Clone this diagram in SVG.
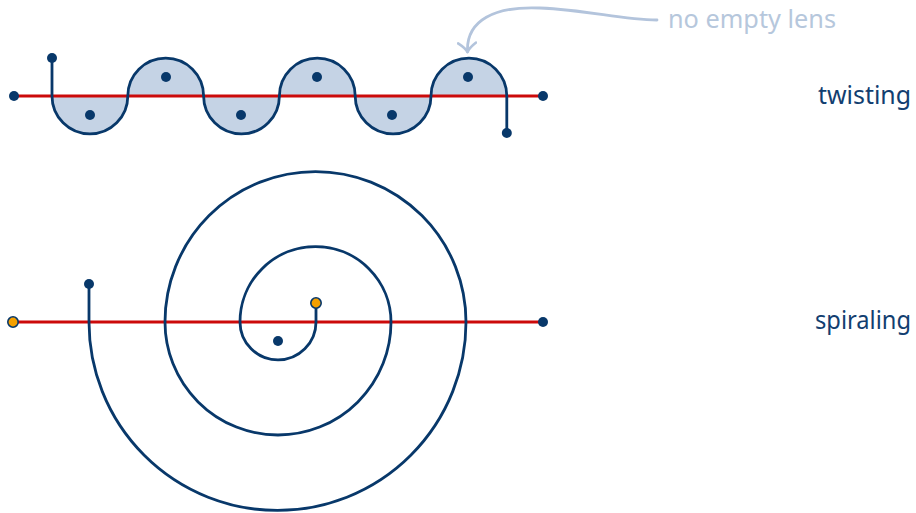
<svg xmlns="http://www.w3.org/2000/svg" width="916" height="513" viewBox="0 0 916 513">
<defs>
<style>
.lens{fill:#c5d3e5;stroke:none}
.red{stroke:#cc0a0a;stroke-width:3;fill:none}
.curve{stroke:#08386a;stroke-width:2.8;fill:none;stroke-linecap:round}
.dot{fill:#08386a}
.odot{fill:#f5a000;stroke:#08386a;stroke-width:1.6}
.lbl{font-family:"Noto Sans","Open Sans",sans-serif;font-size:25px;fill:#123e70}
.note{font-family:"Noto Sans","Open Sans",sans-serif;font-size:25px;fill:#b6c7dc}
.arrow{stroke:#b3c4dc;stroke-width:2.8;fill:none;stroke-linecap:round}
</style>
<marker id="chev" viewBox="-12 -10 14 20" markerWidth="14" markerHeight="20" refX="0" refY="0" orient="auto" markerUnits="userSpaceOnUse">
<path d="M-9,-9 Q-4,-2 0,0 Q-4,2 -9,9" fill="none" stroke="#b3c4dc" stroke-width="2.6" stroke-linecap="round" stroke-linejoin="round"/>
</marker>
</defs>
<rect width="916" height="513" fill="#ffffff"/>

<g id="twisting">
<g id="lenses">
<path class="lens" d="M52,96 A37.9,37.9 0 0 0 127.8,96 Z"/>
<path class="lens" d="M127.8,96 A37.9,37.9 0 0 1 203.6,96 Z"/>
<path class="lens" d="M203.6,96 A37.9,37.9 0 0 0 279.4,96 Z"/>
<path class="lens" d="M279.4,96 A37.9,37.9 0 0 1 355.2,96 Z"/>
<path class="lens" d="M355.2,96 A37.9,37.9 0 0 0 431,96 Z"/>
<path class="lens" d="M431,96 A37.9,37.9 0 0 1 506.8,96 Z"/>
</g>
<line class="red" x1="14" y1="96" x2="543" y2="96"/>
<path class="curve" d="M52,58 V96 A37.9,37.9 0 0 0 127.8,96 A37.9,37.9 0 0 1 203.6,96 A37.9,37.9 0 0 0 279.4,96 A37.9,37.9 0 0 1 355.2,96 A37.9,37.9 0 0 0 431,96 A37.9,37.9 0 0 1 506.8,96 V133"/>
<circle class="dot" cx="14" cy="96" r="5"/>
<circle class="dot" cx="543" cy="96" r="5"/>
<circle class="dot" cx="52" cy="58" r="5"/>
<circle class="dot" cx="506.8" cy="133" r="5"/>
<circle class="dot" cx="90" cy="115" r="5"/>
<circle class="dot" cx="166" cy="77" r="5"/>
<circle class="dot" cx="241" cy="115" r="5"/>
<circle class="dot" cx="317" cy="77" r="5"/>
<circle class="dot" cx="392" cy="115" r="5"/>
<circle class="dot" cx="468" cy="77" r="5"/>
<text class="lbl" x="818" y="104" textLength="93" lengthAdjust="spacingAndGlyphs">twisting</text>
</g>

<g id="note">
<text class="note" x="668" y="28" textLength="168" lengthAdjust="spacingAndGlyphs">no empty lens</text>
</g>

<g id="connectors">
<path class="arrow" d="M657,20 C620,20 590,10 540,8 C495,6 466,20 467.5,52" marker-end="url(#chev)"/>
</g>

<g id="spiraling">
<line class="red" x1="13" y1="322" x2="543" y2="322"/>
<path class="curve" d="M89,284 V322 A188.5,188.5 0 0 0 466,322 A150.5,150.5 0 0 0 165,322 A113,113 0 0 0 391,322 A75.5,75.5 0 0 0 240,322 A38,38 0 0 0 316,322 V303"/>
<circle class="dot" cx="543" cy="322" r="5"/>
<circle class="dot" cx="89" cy="284" r="5"/>
<circle class="dot" cx="278" cy="341" r="5"/>
<circle class="odot" cx="13" cy="322" r="5.2"/>
<circle class="odot" cx="316" cy="303" r="5.2"/>
<text class="lbl" x="815" y="329" textLength="96" lengthAdjust="spacingAndGlyphs">spiraling</text>
</g>
</svg>
